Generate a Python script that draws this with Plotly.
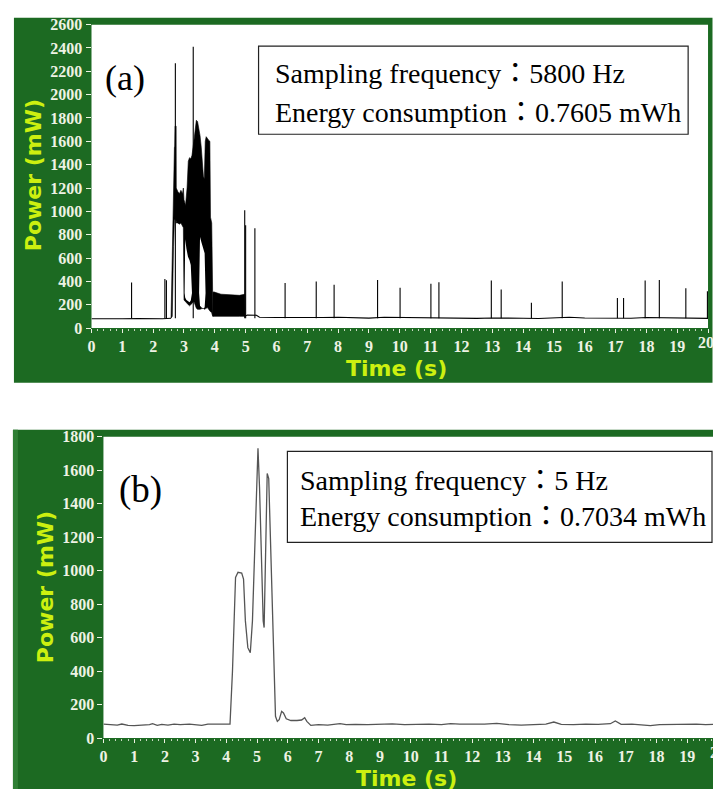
import plotly.graph_objects as go

# ---------------- (a) 5800 Hz power trace ----------------
# quiet baseline before the burst and after the 4-5 s plateau
base_a_t = [0.0, 0.5, 1.0, 1.5, 2.0, 2.3, 2.58]
base_a_v = [80, 78, 80, 82, 79, 80, 84]
base_b_t = [4.98, 5.05, 5.35, 5.45, 6.0, 6.5, 7.0, 7.5, 8.0, 8.5, 9.0, 9.5, 10.0,
            10.5, 11.0, 11.5, 12.0, 12.5, 13.0, 13.5, 14.0, 14.5, 15.0, 15.5,
            16.0, 16.5, 17.0, 17.5, 18.0, 18.5, 19.0, 19.5, 20.0]
base_b_v = [100, 112, 110, 92, 90, 88, 88, 90, 92, 87, 85, 92, 90,
            88, 86, 84, 85, 83, 86, 88, 84, 82, 90, 92,
            86, 85, 86, 84, 90, 88, 84, 86, 83]

# envelope of the dense oscillating burst (2.6 - 3.9 s)
burst_t = [2.58, 2.62, 2.66, 2.69, 2.70, 2.71, 2.745, 2.75, 2.80, 2.85, 2.90, 2.95,
           2.98, 3.00, 3.05, 3.10, 3.14, 3.18, 3.22, 3.26, 3.32, 3.36, 3.40, 3.44,
           3.48, 3.52, 3.56, 3.60, 3.63, 3.66, 3.69, 3.72, 3.76, 3.80, 3.84, 3.86,
           3.90, 3.92, 3.94]
burst_hi = [84, 700, 1150, 1550, 1550, 1730, 1730, 1200, 1170, 1150, 1180, 1150,
            1200, 1100, 1050, 1200, 1430, 1460, 1450, 1480, 1600, 1700, 1780, 1770,
            1720, 1650, 1550, 1400, 1300, 1280, 1600, 1640, 1620, 1610, 1600, 950,
            900, 420, 300]
burst_lo = [84, 100, 700, 920, 930, 930, 920, 900, 900, 890, 900, 880,
            860, 240, 220, 210, 200, 190, 200, 210, 230, 200, 170, 160,
            160, 160, 165, 170, 170, 160, 160, 170, 175, 160, 150, 140,
            130, 110, 100]

# open stretches inside the burst where the trace leaves no ink
gap1_t = [3.02, 3.04, 3.08, 3.13, 3.18, 3.22, 3.26]
gap1_top = [300, 760, 680, 610, 580, 540, 300]
gap1_bot = [300, 260, 240, 230, 220, 235, 300]
gap2_t = [3.49, 3.52, 3.57, 3.62, 3.67, 3.70]
gap2_top = [300, 780, 730, 690, 640, 300]
gap2_bot = [300, 190, 175, 170, 175, 300]

# 4 - 5 s plateau band
band_t = [3.93, 3.96, 4.2, 4.5, 4.8, 4.97, 4.98]
band_hi = [300, 310, 290, 285, 280, 290, 110]
band_lo = [100, 100, 100, 100, 100, 100, 100]

# isolated wake-up spikes
spike_t = [1.30, 2.38, 2.43, 2.72, 3.30, 4.97, 5.00, 5.30, 6.28, 7.29, 7.87, 9.28,
           10.01, 11.01, 11.27, 12.97, 13.29, 14.27, 15.27, 17.06, 17.26, 17.96,
           18.42, 19.28, 19.98]
spike_v = [390, 420, 410, 2270, 2410, 1010, 880, 856, 387, 399, 370, 412,
           345, 379, 393, 407, 331, 216, 399, 258, 258, 407,
           412, 342, 315]
spike_foot = 84

# ---------------- (b) 5 Hz power trace ----------------
slow_t = [0.0, 0.3, 0.45, 0.6, 0.8, 1.0, 1.3, 1.5, 1.6, 1.75, 1.9, 2.1, 2.3, 2.5,
          2.8, 3.0, 3.2, 3.4, 3.7, 4.0, 4.12, 4.2, 4.3, 4.38, 4.5, 4.56, 4.62,
          4.7, 4.78, 4.85, 4.95, 5.03, 5.08, 5.14, 5.2, 5.23, 5.27, 5.33, 5.38,
          5.45, 5.52, 5.6, 5.66, 5.72, 5.8, 5.86, 5.95, 6.1, 6.3, 6.45, 6.55,
          6.62, 6.75, 7.0, 7.3, 7.5, 7.7, 7.9, 8.2, 8.6, 9.0, 9.4, 9.8, 10.2,
          10.6, 11.0, 11.3, 11.6, 12.0, 12.4, 12.8, 13.2, 13.6, 14.0, 14.4,
          14.66, 14.9, 15.3, 15.7, 16.1, 16.5, 16.66, 16.85, 17.2, 17.6, 17.8,
          18.1, 18.5, 18.9, 19.3, 19.6, 19.84]
slow_v = [84, 82, 78, 84, 76, 75, 78, 80, 86, 76, 82, 78, 83, 80,
          84, 82, 76, 83, 82, 83, 84, 400, 960, 990, 985, 950, 700,
          540, 510, 700, 1300, 1730, 1500, 1000, 700, 660, 1000, 1580, 1550,
          1100, 500, 130, 100, 110, 160, 150, 115, 105, 105, 108, 122,
          100, 76, 80, 78, 80, 86, 80, 82, 80, 83, 85, 80, 82,
          84, 80, 86, 84, 82, 84, 88, 80, 78, 80, 84,
          96, 82, 80, 84, 82, 86, 102, 82, 84, 80, 74,
          80, 82, 80, 84, 80, 82]

# ---------------- styling ----------------
W, H = 713, 798
GREEN = "#1c6a22"
GREEN_LIGHT = "#2f7f34"
LIME = "#ccf010"
TICK_COL = "#eef2e4"


def px(x):
    return x / W


def py(y):
    return 1 - y / H


fig = go.Figure()

# (a) baseline
fig.add_trace(go.Scatter(
    x=base_a_t + [None] + base_b_t, y=base_a_v + [None] + base_b_v,
    mode="lines", line=dict(color="black", width=1.1),
    xaxis="x", yaxis="y", showlegend=False, hoverinfo="skip"))

# (a) burst envelope
fig.add_trace(go.Scatter(
    x=burst_t + burst_t[::-1], y=burst_hi + burst_lo[::-1],
    fill="toself", fillcolor="black", mode="lines",
    line=dict(color="black", width=0.6),
    xaxis="x", yaxis="y", showlegend=False, hoverinfo="skip"))
for gt, gtop, gbot in [(gap1_t, gap1_top, gap1_bot), (gap2_t, gap2_top, gap2_bot)]:
    fig.add_trace(go.Scatter(
        x=gt + gt[::-1], y=gtop + gbot[::-1],
        fill="toself", fillcolor="white", mode="lines",
        line=dict(color="white", width=0),
        xaxis="x", yaxis="y", showlegend=False, hoverinfo="skip"))

# (a) plateau band
fig.add_trace(go.Scatter(
    x=band_t + band_t[::-1], y=band_hi + band_lo[::-1],
    fill="toself", fillcolor="black", mode="lines",
    line=dict(color="black", width=0.6),
    xaxis="x", yaxis="y", showlegend=False, hoverinfo="skip"))

# (a) spikes
sx, sy = [], []
for t, v in zip(spike_t, spike_v):
    sx += [t, t, None]
    sy += [spike_foot, v, None]
fig.add_trace(go.Scatter(
    x=sx, y=sy, mode="lines", line=dict(color="black", width=1.1),
    xaxis="x", yaxis="y", showlegend=False, hoverinfo="skip"))

# (b) trace
fig.add_trace(go.Scatter(
    x=slow_t, y=slow_v, mode="lines", line=dict(color="#555555", width=1.3),
    xaxis="x2", yaxis="y2", showlegend=False, hoverinfo="skip"))

tickfont = dict(family="Liberation Serif, Times New Roman, serif", size=16,
                color=TICK_COL, weight="bold")
minor = dict(dtick=0.2, ticks="outside", ticklen=2, tickcolor="#c8d8c0", showgrid=False)

xcommon = dict(dtick=1, tick0=0, ticks="outside", ticklen=4, tickcolor=TICK_COL,
               tickfont=tickfont, showgrid=False, zeroline=False, showline=False,
               minor=minor, fixedrange=True)
ycommon = dict(dtick=200, tick0=0, ticks="outside", ticklen=5, tickcolor=TICK_COL,
               tickfont=tickfont, showgrid=False, zeroline=False, showline=False,
               fixedrange=True)

shapes = [
    # panel (a) frame and plot area
    dict(type="rect", xref="paper", yref="paper", x0=px(10), x1=px(712.5),
         y0=py(383), y1=py(10), fillcolor=GREEN, line=dict(width=0), layer="below"),
    dict(type="rect", xref="paper", yref="paper", x0=px(88), x1=px(708),
         y0=py(327), y1=py(17), fillcolor="white", line=dict(width=0), layer="below"),
    # panel (b) frame and plot area
    dict(type="rect", xref="paper", yref="paper", x0=px(9), x1=1,
         y0=0, y1=py(431), fillcolor=GREEN, line=dict(width=0), layer="below"),
    dict(type="rect", xref="paper", yref="paper", x0=px(9), x1=px(14),
         y0=0, y1=py(431), fillcolor=GREEN_LIGHT, line=dict(width=0), layer="below"),
    dict(type="rect", xref="paper", yref="paper", x0=px(100), x1=1,
         y0=py(746), y1=py(438), fillcolor="white", line=dict(width=0), layer="below"),
    # info boxes
    dict(type="rect", xref="paper", yref="paper", x0=px(256), x1=px(688),
         y0=py(129), y1=py(39), fillcolor="white", line=dict(color="#222222", width=1.2),
         layer="above"),
    dict(type="rect", xref="paper", yref="paper", x0=px(285), x1=px(712),
         y0=py(546), y1=py(453), fillcolor="white", line=dict(color="#222222", width=1.2),
         layer="above"),
]

serif = dict(family="Liberation Serif, Noto Sans CJK TC", size=28, color="black")
title_font = dict(family="DejaVu Sans", size=22, color=LIME, weight="bold")

annotations = [
    dict(text="(a)", x=px(122), y=py(72), font=dict(family="Liberation Serif", size=36, color="black")),
    dict(text="Sampling frequency：5800 Hz", x=px(271), y=py(67), xanchor="left", font=serif),
    dict(text="Energy consumption：0.7605 mWh", x=px(271), y=py(107), xanchor="left", font=serif),
    dict(text="(b)", x=px(137), y=py(492), font=dict(family="Liberation Serif", size=37, color="black")),
    dict(text="Sampling frequency：5 Hz", x=px(296), y=py(483), xanchor="left", font=serif),
    dict(text="Energy consumption：0.7034 mWh", x=px(296), y=py(520), xanchor="left", font=serif),
    dict(text="Power (mW)", x=px(30), y=py(171), textangle=-90, font=title_font),
    dict(text="Time (s)", x=px(395), y=py(368), font=title_font),
    dict(text="Power (mW)", x=px(42), y=py(592), textangle=-90, font=title_font),
    dict(text="Time (s)", x=px(405), y=py(787), font=title_font),
    # last x tick labels, which sit on the right edge of each frame
    dict(text="20", x=px(706), y=py(342), font=tickfont),
    dict(text="20", x=px(718), y=py(761), font=tickfont),
]
for a in annotations:
    a.setdefault("xref", "paper")
    a.setdefault("yref", "paper")
    a.setdefault("showarrow", False)
    a.setdefault("xanchor", "center")
    a.setdefault("yanchor", "middle")

fig.update_layout(
    width=W, height=H, autosize=False,
    margin=dict(l=0, r=0, t=0, b=0, pad=0),
    paper_bgcolor="white", plot_bgcolor="rgba(0,0,0,0)",
    xaxis=dict(domain=[px(88), px(708)], range=[0, 20], anchor="y", **xcommon),
    yaxis=dict(domain=[py(327), py(17)], range=[0, 2600], anchor="x", **ycommon),
    xaxis2=dict(domain=[px(100), 1], range=[0, 19.84], anchor="y2", **xcommon),
    yaxis2=dict(domain=[py(746), py(438)], range=[0, 1800], anchor="x2", **ycommon),
    shapes=shapes, annotations=annotations,
)

fig.write_html("out.html")
